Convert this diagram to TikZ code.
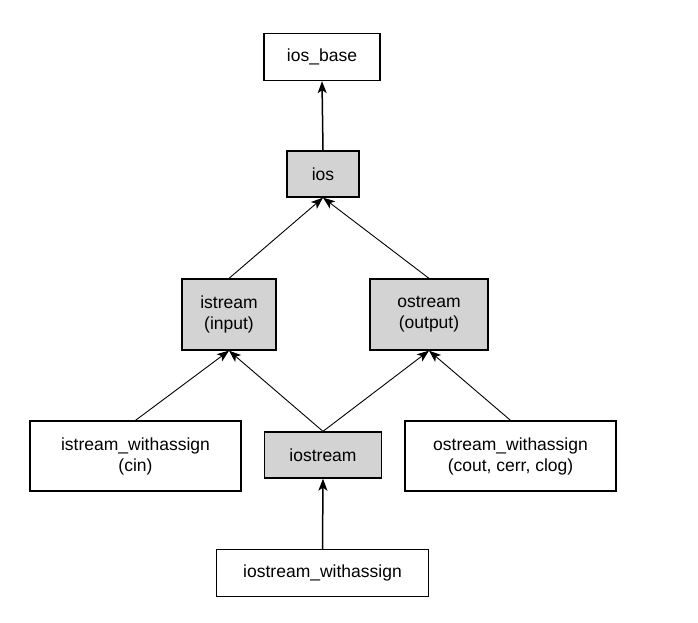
\documentclass[tikz,border=0pt]{standalone}
\usepackage{fontspec}
\setmainfont{Liberation Sans}
\usepackage{tikz}
\usetikzlibrary{arrows.meta}
\definecolor{boxgray}{HTML}{D3D3D3}

\begin{document}
\begin{tikzpicture}[
    x=1pt, y=-1pt,
    every node/.style={draw, line width=1.3pt, inner sep=0pt, font=\fontsize{17.5}{21}\selectfont, align=center},
    cls/.style={fill=white},
    base/.style={fill=boxgray},
    arr/.style={-{Stealth[length=12pt, width=9pt, inset=3pt]}, line width=0.9pt}
]
\useasboundingbox (0,0) rectangle (698,622);
\node (iosbase) [cls, minimum width=116pt, minimum height=47pt] at (322,57) {ios\_base};
\node (ios) [base, minimum width=72pt, minimum height=46pt] at (323,174) {ios};
\node (istr) [base, minimum width=94pt, minimum height=71pt] at (229,314.5) {istream\\(input)};
\node (ostr) [base, minimum width=118pt, minimum height=71pt] at (429,314.5) {ostream\\(output)};
\node (istrwa) [cls, minimum width=211pt, minimum height=70pt] at (135.5,456) {istream\_withassign\\(cin)};
\node (iostr) [base, minimum width=117pt, minimum height=46pt] at (323,455) {iostream};
\node (ostrwa) [cls, minimum width=211pt, minimum height=70pt] at (510.5,456) {ostream\_withassign\\(cout, cerr, clog)};
\node (iostrwa) [cls, minimum width=212pt, minimum height=47pt] at (322.5,573) {iostream\_withassign};
\draw[arr, line width=1.5pt] (ios.north) -- (iosbase.south);
\draw[arr] (istr.north) -- (ios.south);
\draw[arr] (ostr.north) -- (ios.south);
\draw[arr] (istrwa.north) -- (istr.south);
\draw[arr] (iostr.north) -- (istr.south);
\draw[arr] (iostr.north) -- (ostr.south);
\draw[arr] (ostrwa.north) -- (ostr.south);
\draw[arr, line width=1.5pt] (iostrwa.north) -- (iostr.south);
\end{tikzpicture}
\end{document}
